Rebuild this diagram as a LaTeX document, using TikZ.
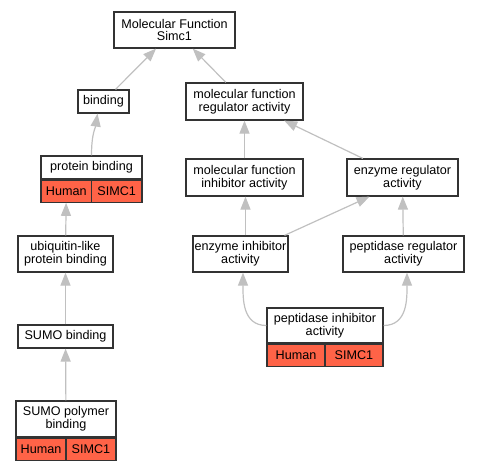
\documentclass[tikz,border=0pt]{standalone}
\usepackage{fontspec}
\setmainfont{Liberation Sans}
\usepackage{xcolor}
\usetikzlibrary{arrows.meta, positioning}

\definecolor{boxline}{HTML}{333333}
\definecolor{edgegray}{HTML}{C0C0C0}
\definecolor{genecell}{HTML}{FF6347}

\begin{document}
\begin{tikzpicture}[x=1pt, y=-1pt,
    every node/.style={font=\fontsize{12.6}{12.8}\selectfont},
    term/.style={rectangle, draw=boxline, line width=1.2pt, fill=white, inner sep=0pt, align=center},
    cell/.style={rectangle, draw=boxline, line width=1.2pt, fill=genecell, inner sep=0pt, minimum height=22pt},
    edge/.style={draw=edgegray, line width=1.2pt, -{Triangle[length=13pt, width=10pt]}},
]
\useasboundingbox (0,0) rectangle (480,469);

% Terms
\node[term, minimum width=121pt, minimum height=36pt] (mf) at (174.5,30) {Molecular Function\\Simc1};
\node[term, minimum width=51pt, minimum height=23pt] (binding) at (103.5,101.5) {binding};
\node[term, minimum width=117pt, minimum height=37pt] (mfra) at (244.5,101.5) {molecular function\\regulator activity};
\node[term, minimum width=101pt, minimum height=23pt] (pb) at (91.5,167.5) {protein binding};
\node[term, minimum width=117pt, minimum height=37pt] (mfia) at (244.5,177.5) {molecular function\\inhibitor activity};
\node[term, minimum width=111pt, minimum height=37pt] (era) at (402.5,177.5) {enzyme regulator\\activity};
\node[term, minimum width=95pt, minimum height=36pt] (ubl) at (65.5,254) {ubiquitin-like\\protein binding};
\node[term, minimum width=95pt, minimum height=36pt] (eia) at (240.5,254) {enzyme inhibitor\\activity};
\node[term, minimum width=121pt, minimum height=36pt] (pra) at (403.5,254) {peptidase regulator\\activity};
\node[term, minimum width=95pt, minimum height=23pt] (sumo) at (65.5,336.5) {SUMO binding};
\node[term, minimum width=116pt, minimum height=35pt] (pia) at (325,325.5) {peptidase inhibitor\\activity};
\node[term, minimum width=100pt, minimum height=36pt] (spb) at (66,419) {SUMO polymer\\binding};

% Gene cells
\node[cell, minimum width=50.5pt, below right=0pt and 0pt of pb.south west, anchor=north west] (pbHuman) {Human};
\node[cell, minimum width=50.5pt, below left=0pt and 0pt of pb.south east, anchor=north east] (pbGene) {SIMC1};
\node[cell, minimum width=58pt, below right=0pt and 0pt of pia.south west, anchor=north west] (piaHuman) {Human};
\node[cell, minimum width=58pt, below left=0pt and 0pt of pia.south east, anchor=north east] (piaGene) {SIMC1};
\node[cell, minimum width=50pt, below right=0pt and 0pt of spb.south west, anchor=north west] (spbHuman) {Human};
\node[cell, minimum width=50pt, below left=0pt and 0pt of spb.south east, anchor=north east] (spbGene) {SIMC1};

% Edges
\draw[edge] (binding) -- (mf);
\draw[edge] (mfra) -- (mf);
\draw[edge] (pb.north) .. controls +(0,-22) and +(-2,14) .. ([xshift=-6pt]binding.south);
\draw[edge] (mfia) -- (mfra);
\draw[edge] (era) -- (mfra);
\draw[edge] (ubl) -- (pbHuman);
\draw[edge] ([xshift=5pt]eia.north) -- ([xshift=1pt]mfia.south);
\draw[edge] ([xshift=44pt]eia.north) -- ([xshift=-33pt]era.south);
\draw[edge] (pra) -- (era);
\draw[edge] (sumo) -- (ubl);
\draw[edge] (pia.west) .. controls +(-24,0) and +(0,26) .. ([xshift=2.5pt]eia.south);
\draw[edge] (pia.east) .. controls +(24,0) and +(0,26) .. ([xshift=3.5pt]pra.south);
\draw[edge] (spb) -- (sumo);

\end{tikzpicture}
\end{document}
